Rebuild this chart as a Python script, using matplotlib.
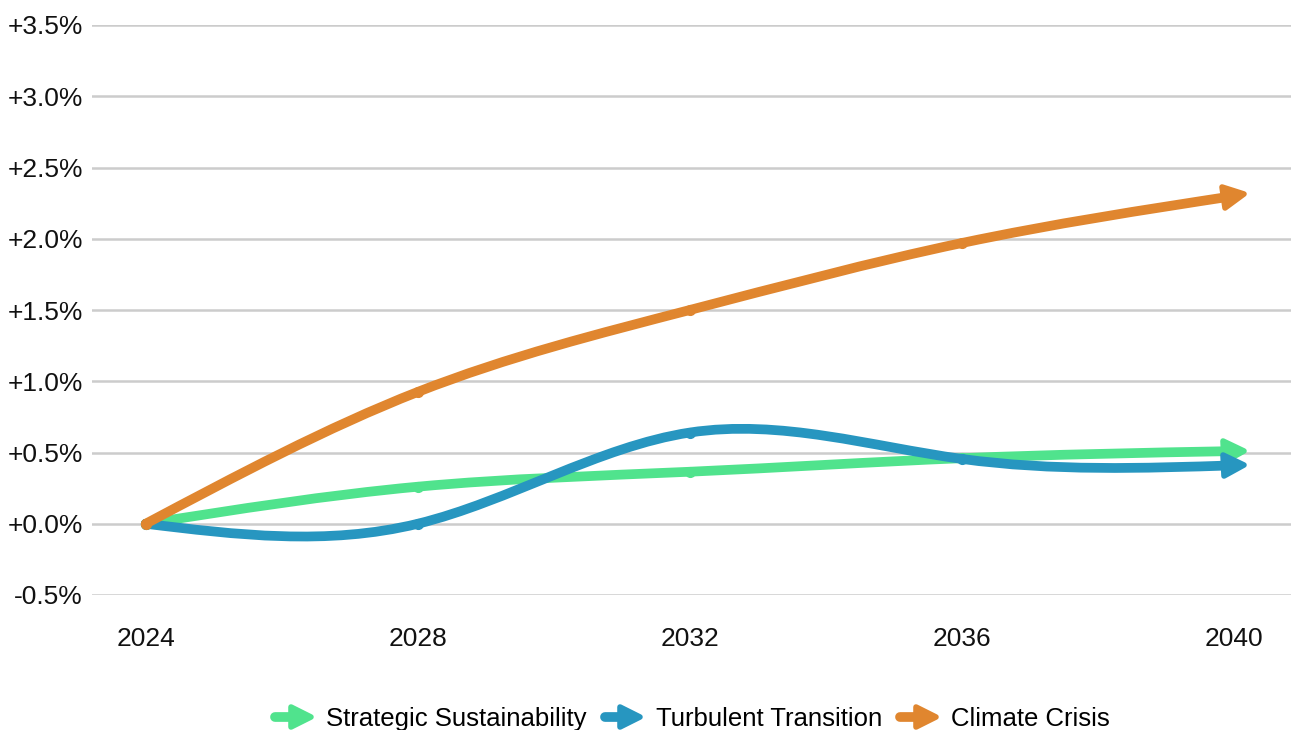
import numpy as np
import matplotlib
matplotlib.use("Agg")
import matplotlib.pyplot as plt
from matplotlib.path import Path
from matplotlib.patches import PathPatch
from matplotlib.lines import Line2D
from matplotlib.markers import MarkerStyle
from matplotlib.transforms import Affine2D
from matplotlib.legend_handler import HandlerBase
from matplotlib.ticker import FuncFormatter

plt.rcParams['font.family'] = ['Liberation Sans', 'DejaVu Sans']

years = [2024, 2028, 2032, 2036, 2040]
series_names = ['Strategic Sustainability', 'Turbulent Transition', 'Climate Crisis']
strategic = [0.0, 0.26, 0.365, 0.46, 0.51]
turbulent = [0.0, 0.0, 0.64, 0.455, 0.41]
climate = [0.0, 0.925, 1.50, 1.97, 2.30]
colors = ['#50e38d', '#2796c0', '#e0862f']


def natural_spline_path(x, y):
    # natural cubic spline, written as bezier segments
    x = np.asarray(x, float)
    y = np.asarray(y, float)
    n = len(x)
    h = np.diff(x)
    A = np.zeros((n, n))
    b = np.zeros(n)
    A[0, 0] = 1
    A[-1, -1] = 1
    for i in range(1, n - 1):
        A[i, i - 1] = h[i - 1]
        A[i, i] = 2 * (h[i - 1] + h[i])
        A[i, i + 1] = h[i]
        b[i] = 6 * ((y[i + 1] - y[i]) / h[i] - (y[i] - y[i - 1]) / h[i - 1])
    M = np.linalg.solve(A, b)
    d = np.zeros(n)
    for i in range(n - 1):
        d[i] = (y[i + 1] - y[i]) / h[i] - h[i] * (2 * M[i] + M[i + 1]) / 6
    d[-1] = (y[-1] - y[-2]) / h[-1] + h[-1] * (M[-2] + 2 * M[-1]) / 6
    verts = [(x[0], y[0])]
    codes = [Path.MOVETO]
    for i in range(n - 1):
        verts += [(x[i] + h[i] / 3, y[i] + d[i] * h[i] / 3),
                  (x[i + 1] - h[i] / 3, y[i + 1] - d[i + 1] * h[i] / 3),
                  (x[i + 1], y[i + 1])]
        codes += [Path.CURVE4] * 3
    return Path(verts, codes), d[-1]


class ArrowHandler(HandlerBase):
    def create_artists(self, legend, orig_handle, xdescent, ydescent,
                       width, height, fontsize, trans):
        c = orig_handle.get_color()
        yc = height / 2 - ydescent
        x0 = -xdescent + 2
        x1 = width - xdescent - 9
        line = Line2D([x0, x1], [yc, yc], color=c, lw=7,
                      solid_capstyle='round', transform=trans)
        head = Line2D([x1], [yc], marker=MarkerStyle('>', joinstyle='round'),
                      ms=14, color=c, mec=c, mew=4, transform=trans)
        return [line, head]


fig = plt.figure(figsize=(12.91, 7.30), dpi=100)
ax = fig.add_axes([92 / 1291, 1 - 595 / 730, 1 - 92 / 1291, (595 - 25) / 730])
ax.set_xlim(2023.21, 2040.84)
ax.set_ylim(-0.5, 3.5)

ax.set_yticks(np.arange(-0.5, 3.51, 0.5))
ax.set_xticks(years)
ax.yaxis.set_major_formatter(FuncFormatter(
    lambda v, p: ('+' if v >= -1e-9 else '-') + '%.1f%%' % abs(v)))
ax.grid(axis='y', color='#cccccc', lw=1.8)
ax.set_axisbelow(True)
for s in ax.spines.values():
    s.set_visible(False)
ax.tick_params(length=0, labelsize=19, colors='#111111')
ax.tick_params(axis='x', pad=23)
ax.tick_params(axis='y', pad=6.5)

handles = []
for name, vals, c in zip(series_names, [strategic, turbulent, climate], colors):
    path, slope = natural_spline_path(years, vals)
    ax.add_patch(PathPatch(path, fill=False, edgecolor=c, lw=7,
                           capstyle='round', joinstyle='round', zorder=3))
    ax.plot(years[:-1], vals[:-1], 'o', ms=7, color=c, zorder=3)
    # arrow head along the end tangent
    p0 = ax.transData.transform((years[-1] - 1, vals[-1] - slope))
    p1 = ax.transData.transform((years[-1], vals[-1]))
    ang = np.degrees(np.arctan2(p1[1] - p0[1], p1[0] - p0[0]))
    m = MarkerStyle('>', joinstyle='round', transform=Affine2D().rotate_deg(ang))
    ax.plot([years[-1]], [vals[-1]], marker=m, ms=15, color=c, mec=c,
            mew=4, zorder=3, linestyle='none')
    handles.append(Line2D([], [], color=c, label=name))

fig.legend(handles=handles, loc='center', bbox_to_anchor=(691 / 1291, 1 - 719 / 730),
           ncol=3, frameon=False, fontsize=18.5, handlelength=1.6,
           handletextpad=0.5, columnspacing=0.6,
           handler_map={Line2D: ArrowHandler()})

fig.savefig('out.png', dpi=100)
